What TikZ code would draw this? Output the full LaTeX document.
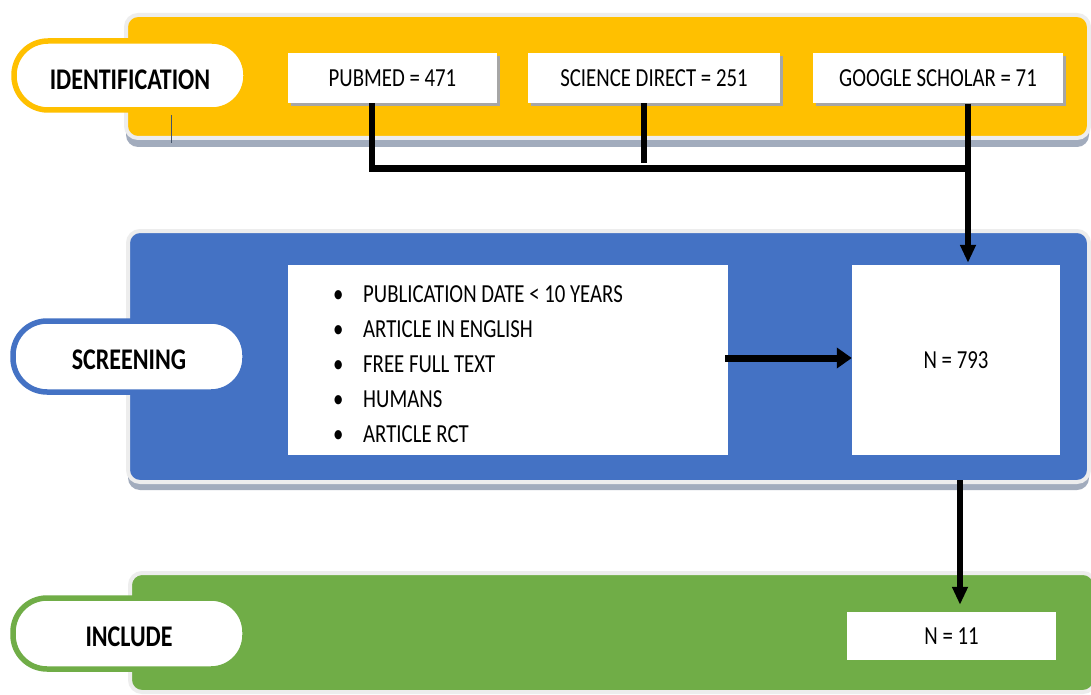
\documentclass[tikz,border=0pt]{standalone}
\usepackage{fontspec}
\setmainfont{Carlito}[FakeStretch=0.8]
\usetikzlibrary{arrows.meta,calc,shadows}
\definecolor{idyel}{HTML}{FFC000}
\definecolor{scblue}{HTML}{4472C4}
\definecolor{ingreen}{HTML}{70AD47}
\definecolor{shad}{HTML}{A2ACBD}
\definecolor{halo}{HTML}{EDEDED}
\definecolor{boxshad}{HTML}{A6A6A6}
\definecolor{stray}{HTML}{44546A}
\begin{document}
\begin{tikzpicture}[x=1pt,y=-1pt,
  band/.style={draw=halo,line width=4pt,rounded corners=12pt},
  bandshadow/.style={fill=shad,rounded corners=12pt},
  pill/.style={fill=white,line width=5.5pt,rounded corners=34pt,minimum width=232pt,inner sep=0pt},
  pilltext/.style={font=\fontsize{30}{36}\selectfont\bfseries,inner sep=0pt},
  wbox/.style={fill=white,inner sep=0pt,font=\fontsize{26}{32}\selectfont},
  tbox/.style={wbox,minimum height=50pt,drop shadow={shadow xshift=3pt,shadow yshift=-3pt,fill=boxshad,opacity=1}},
  listline/.style={anchor=base west,inner sep=0pt,font=\fontsize{26}{32}\selectfont},
  connv/.style={line width=5.5pt,black},
  connh/.style={line width=7pt,black},
  arrv/.style={connv,-{Triangle[length=18pt,width=15pt]}},
  arrh/.style={connh,-{Triangle[length=15pt,width=20pt]}}]
\useasboundingbox (0,0) rectangle (1091,695);
\fill[white] (0,0) rectangle (1091,695);

% bands
\fill[bandshadow] (126,22) rectangle (1089,147);
\path[band,fill=idyel] (126,15) rectangle (1089,138);
\fill[bandshadow] (128,238) rectangle (1089,490);
\path[band,fill=scblue] (128,231) rectangle (1089,482);
\path[band,fill=ingreen] (130,573) rectangle (1095,692);
\draw[stray,line width=1pt] (171,115) -- (171,143);

% pills
\node[pill,draw=idyel,minimum height=69pt] (pid) at (130,75.5) {};
\node[pilltext] (tid) at ([yshift=-4pt]pid.center) {IDENTIFICATION};
\node[pill,draw=scblue,minimum height=71pt] (psc) at (129,356.5) {};
\node[pilltext] (tsc) at ([yshift=-3.5pt]psc.center) {SCREENING};
\node[pill,draw=ingreen,minimum height=71pt] (pin) at (129,633.5) {};
\node[pilltext] (tin) at ([yshift=-3.5pt]pin.center) {INCLUDE};

% top boxes
\node[tbox,minimum width=209pt] (pub) at (392.5,78) {PUBMED = 471};
\node[tbox,minimum width=252pt] (sd) at (654,78) {SCIENCE DIRECT = 251};
\node[tbox,minimum width=250pt] (gs) at (938,78.5) {GOOGLE SCHOLAR = 71};

% screening boxes
\node[wbox,minimum width=440pt,minimum height=190pt] (crit) at (508,360) {};
\node[listline] (c1) at (333,302) {\makebox[30pt][l]{•}PUBLICATION DATE < 10 YEARS};
\node[listline] (c2) at (333,337) {\makebox[30pt][l]{•}ARTICLE IN ENGLISH};
\node[listline] (c3) at (333,372) {\makebox[30pt][l]{•}FREE FULL TEXT};
\node[listline] (c4) at (333,407) {\makebox[30pt][l]{•}HUMANS};
\node[listline] (c5) at (333,442) {\makebox[30pt][l]{•}ARTICLE RCT};
\node[wbox,minimum width=208pt,minimum height=190pt] (n793) at (956,360) {N = 793};

% include box
\node[wbox,minimum width=209pt,minimum height=48pt] (n11) at (951.5,636) {N = 11};

% connectors
\coordinate (jl) at (372,168.5);
\coordinate (j) at (968,168.5);
\draw[connv] ([xshift=-20.5pt]pub.south) -- ([yshift=-3.5pt]jl);
\draw[connh] ([xshift=-2.75pt]jl) -- (j);
\draw[connv] ([xshift=-10pt]sd.south) -- ([xshift=-10pt,yshift=5.5pt]sd.south |- j);
\draw[arrv,shorten >=2pt] ([xshift=30pt]gs.south) -- ([xshift=30pt]gs.south |- n793.north);
\draw[arrh] ([xshift=-3pt,yshift=2pt]crit.east) -- ([yshift=2pt]n793.west);
\coordinate (bb) at (960,480);
\draw[arrv,shorten >=7pt] (bb) -- (bb |- n11.north);
\end{tikzpicture}
\end{document}
